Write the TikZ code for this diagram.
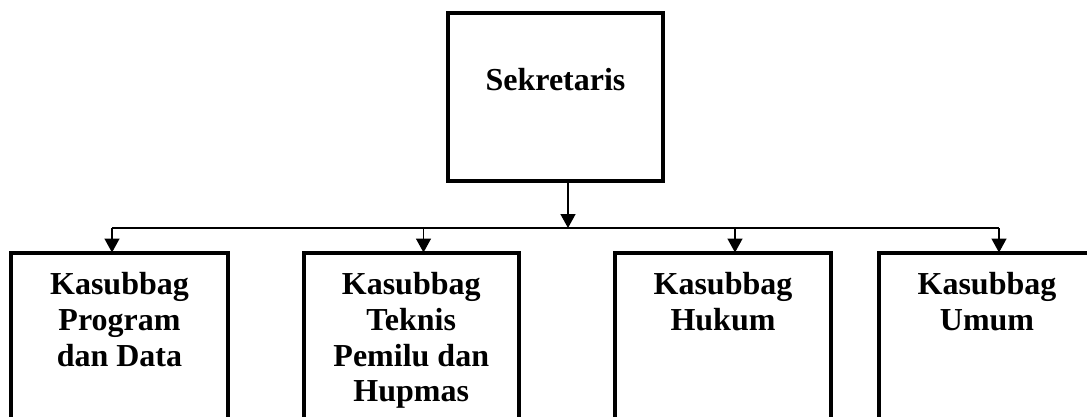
\documentclass[tikz,border=0pt]{standalone}
\usepackage{fontspec}
\setmainfont{Liberation Serif}
\usetikzlibrary{arrows.meta}
\tikzset{
  box/.style={draw=black, line width=4pt, inner sep=0pt, outer sep=0pt, anchor=north, fill=white},
  lbl/.style={anchor=north, inner sep=0pt, align=center, font=\fontsize{32}{35.8}\selectfont\bfseries},
  conn/.style={draw=black, line width=1.5pt},
  arr/.style={conn, -{Triangle[length=14pt,width=15pt]}}
}
\begin{document}
\begin{tikzpicture}[x=1pt,y=-1pt]
\useasboundingbox (0,0) rectangle (1087,416);
\clip (0,0) rectangle (1087,416);
% boxes
\node[box, minimum width=215pt, minimum height=168pt] (sek) at (555.5,12.5) {};
\node[box, minimum width=217pt, minimum height=220pt] (b1) at (119.5,252.5) {};
\node[box, minimum width=215.5pt, minimum height=220pt] (b2) at (411.25,252.5) {};
\node[box, minimum width=216pt, minimum height=220pt] (b3) at (723,252.5) {};
\node[box, minimum width=216pt, minimum height=220pt] (b4) at (987,252.5) {};
% labels
\node[lbl] (tsek) at (555.5,68) {Sekretaris};
\node[lbl] (t1) at (119.5,272) {Kasubbag\\Program\\dan Data};
\node[lbl] (t2) at (411.25,272) {Kasubbag\\Teknis\\Pemilu dan\\Hupmas};
\node[lbl] (t3) at (723,272) {Kasubbag\\Hukum};
\node[lbl] (t4) at (987,272) {Kasubbag\\Umum};
% connectors
\coordinate (bus) at (568,228);
\coordinate (j1) at (112,228);
\coordinate (j2) at (423.5,228);
\coordinate (j3) at (735,228);
\coordinate (j4) at (999,228);
\draw[conn] (j1) -- (j4);
\draw[arr] (sek.south -| bus) -- (bus);
\draw[arr] (j1) -- (j1 |- b1.north);
\draw[arr] (j2) -- (j2 |- b2.north);
\draw[arr] (j3) -- (j3 |- b3.north);
\draw[arr] (j4) -- (j4 |- b4.north);
\end{tikzpicture}
\end{document}
